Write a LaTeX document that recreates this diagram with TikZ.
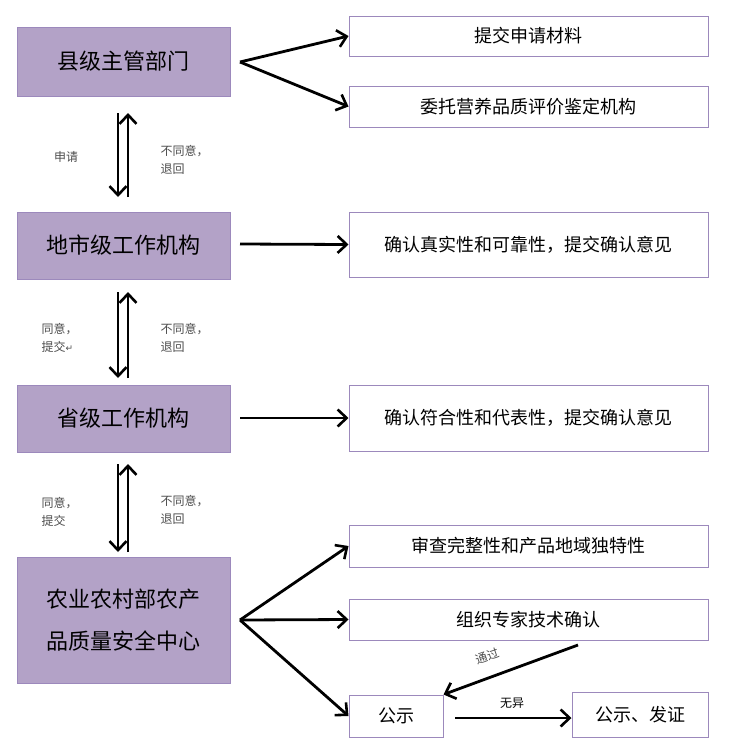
\documentclass[tikz,border=0pt]{standalone}
\usepackage{fontspec}
\setmainfont{Noto Sans CJK SC}
\newfontfamily\djv{DejaVu Sans}
\usetikzlibrary{arrows.meta}
\definecolor{pf}{HTML}{B3A2C7}
\definecolor{pb}{HTML}{9C89BC}
\begin{document}
\begin{tikzpicture}[x=1pt,y=-1pt,
 lbox/.style={draw=pb,fill=pf,line width=1pt,minimum width=213pt,inner sep=0pt,font=\fontsize{22}{42}\selectfont,align=center},
 rbox/.style={draw=pb,line width=1pt,inner sep=0pt,font=\fontsize{18}{22}\selectfont},
 arr/.style={line width=2.8pt,-{Straight Barb[length=9pt,width=17pt,line width=2.6pt]}},
 sm/.style={font=\fontsize{12}{15}\selectfont,text=black!70,align=left}]
\useasboundingbox (0,0) rectangle (750,748);
\node[lbox,minimum height=69pt] (a) at (123.5,61.5) {县级主管部门};
\node[lbox,minimum height=67pt] (b) at (123.5,245.5) {地市级工作机构};
\node[lbox,minimum height=67pt] (c) at (123.5,418.5) {省级工作机构};
\node[lbox,minimum height=126pt] (d) at (123.5,620) {农业农村部农产\\品质量安全中心};
\node[rbox,minimum width=359pt,minimum height=40pt] (r1) at (528.5,36) {提交申请材料};
\node[rbox,minimum width=359pt,minimum height=41pt] (r2) at (528.5,106.5) {委托营养品质评价鉴定机构};
\node[rbox,minimum width=359pt,minimum height=65pt] (r3) at (528.5,244.5) {确认真实性和可靠性，提交确认意见};
\node[rbox,minimum width=359pt,minimum height=66pt] (r4) at (528.5,418) {确认符合性和代表性，提交确认意见};
\node[rbox,minimum width=359pt,minimum height=42pt] (r5) at (528.5,546) {审查完整性和产品地域独特性};
\node[rbox,minimum width=359pt,minimum height=41pt] (r6) at (528.5,619.5) {组织专家技术确认};
\node[rbox,minimum width=94pt,minimum height=42pt] (r7) at (396,716) {公示};
\node[rbox,minimum width=136pt,minimum height=45pt] (r8) at (640,714.5) {公示、发证};
\coordinate (as) at (240,62);
\draw[arr] (as) -- (r1.west);
\draw[arr] (as) -- (r2.west);
\draw[arr] (240,244) -- (r3.west);
\draw[arr] (240,418) -- (r4.west);
\coordinate (ds) at (240,620);
\draw[arr] (ds) -- (r5.west);
\draw[arr] (ds) -- (r6.west);
\draw[arr] (ds) -- (r7.west);
\coordinate (ts) at (578,645);
\draw[arr] (ts) -- (r7.north east);
\node[sm,rotate=19] (tg) at (487,656) {通过};
\coordinate (ws) at (455,718);
\draw[arr] (ws) -- (ws -| r8.west);
\node[sm,text=black] (wy) at (512,703) {无异};
\foreach \t/\bt/\ty in {113/197/1,292/378/2,464/552/3}{
 \draw[arr] (118,\t) -- (118,\bt);
 \draw[arr] (128,\bt) -- (128,\t);}
\node[sm] (l1) at (66,157) {申请};
\node[sm,anchor=west] (l2) at (157,160) {不同意，\\[3pt]退回};
\node[sm,anchor=west] (l3) at (38,338) {同意，\\[3pt]提交{\djv\fontsize{9}{9}\selectfont ↵}};
\node[sm,anchor=west] (l4) at (157,338) {不同意，\\[3pt]退回};
\node[sm,anchor=west] (l5) at (38,512) {同意，\\[3pt]提交};
\node[sm,anchor=west] (l6) at (157,510) {不同意，\\[3pt]退回};
\end{tikzpicture}
\end{document}
